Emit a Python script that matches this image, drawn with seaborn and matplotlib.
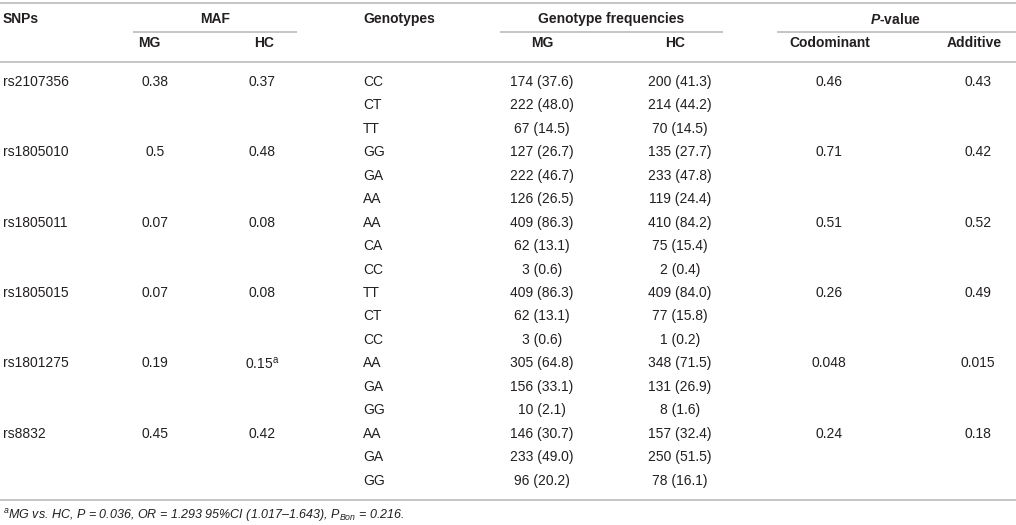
import matplotlib
matplotlib.use("Agg")
import matplotlib.pyplot as plt
import seaborn as sns

# table contents
snps = ["rs2107356", "rs1805010", "rs1805011", "rs1805015", "rs1801275", "rs8832"]
maf_mg = ["0.38", "0.5", "0.07", "0.07", "0.19", "0.45"]
maf_hc = ["0.37", "0.48", "0.08", "0.08", r"0.15$^{\mathrm{a}}$", "0.42"]
genotypes = [["CC", "CT", "TT"], ["GG", "GA", "AA"], ["AA", "CA", "CC"],
             ["TT", "CT", "CC"], ["AA", "GA", "GG"], ["AA", "GA", "GG"]]
mg_counts = [[174, 222, 67], [127, 222, 126], [409, 62, 3],
             [409, 62, 3], [305, 156, 10], [146, 233, 96]]
mg_pct = [[37.6, 48.0, 14.5], [26.7, 46.7, 26.5], [86.3, 13.1, 0.6],
          [86.3, 13.1, 0.6], [64.8, 33.1, 2.1], [30.7, 49.0, 20.2]]
hc_counts = [[200, 214, 70], [135, 233, 119], [410, 75, 2],
             [409, 77, 1], [348, 131, 8], [157, 250, 78]]
hc_pct = [[41.3, 44.2, 14.5], [27.7, 47.8, 24.4], [84.2, 15.4, 0.4],
          [84.0, 15.8, 0.2], [71.5, 26.9, 1.6], [32.4, 51.5, 16.1]]
p_codominant = ["0.46", "0.71", "0.51", "0.26", "0.048", "0.24"]
p_additive = ["0.43", "0.42", "0.52", "0.49", "0.015", "0.18"]
footnote = (r"$^{a}$MG vs. HC, $P$ = 0.036, OR = 1.293 95%CI (1.017–1.643), "
            r"$P_{Bon}$ = 0.216.")

sns.set_theme(style="white")
plt.rcParams["font.family"] = ["Liberation Sans", "DejaVu Sans"]
plt.rcParams["mathtext.fontset"] = "custom"
plt.rcParams["mathtext.rm"] = "Liberation Sans"
plt.rcParams["mathtext.it"] = "Liberation Sans:italic"
plt.rcParams["mathtext.bf"] = "Liberation Sans:bold"
plt.rcParams["mathtext.bfit"] = "Liberation Sans:bold:italic"

W, H = 1016, 525
fig = plt.figure(figsize=(W / 100, H / 100), dpi=100)
ax = fig.add_axes([0, 0, 1, 1])
ax.set_xlim(0, W)
ax.set_ylim(H, 0)
ax.axis("off")

txt = "#231f20"
rule = "#b5b5b5"
fs = 10

# column positions (pixels)
x_snp, x_mafmg, x_mafhc, x_geno = 3, 155, 262, 363
x_fmg, x_fhc, x_cod, x_add = 542, 680, 829, 978

# rules
for y in (3, 62, 500):
    ax.plot([0, W], [y, y], color=rule, lw=1.1, solid_capstyle="butt")
for x0, x1 in ((133, 297), (500, 723), (777, W)):
    ax.plot([x0, x1], [32, 32], color=rule, lw=1.1, solid_capstyle="butt")

# header
hd = dict(fontsize=fs, fontweight="bold", color=txt, va="center")
ax.text(x_snp, 19, "SNPs", ha="left", **hd)
ax.text(215, 19, "MAF", ha="center", **hd)
ax.text(x_geno, 19, "Genotypes", ha="left", **hd)
ax.text(611, 19, "Genotype frequencies", ha="center", **hd)
ax.text(895, 19, r"$\mathbfit{P}$-value", ha="center", **hd)
ax.text(149, 43, "MG", ha="center", **hd)
ax.text(264, 43, "HC", ha="center", **hd)
ax.text(x_fmg, 43, "MG", ha="center", **hd)
ax.text(675, 43, "HC", ha="center", **hd)
ax.text(830, 43, "Codominant", ha="center", **hd)
ax.text(974, 43, "Additive", ha="center", **hd)

# body
bd = dict(fontsize=fs, color=txt, va="center")
y0, dy = 82, 23.45
for i, snp in enumerate(snps):
    ys = y0 + 3 * i * dy
    ax.text(x_snp, ys, snp, ha="left", **bd)
    ax.text(x_mafmg, ys, maf_mg[i], ha="center", **bd)
    ax.text(x_mafhc, ys, maf_hc[i], ha="center", **bd)
    ax.text(x_cod, ys, p_codominant[i], ha="center", **bd)
    ax.text(x_add, ys, p_additive[i], ha="center", **bd)
    for j in range(3):
        y = ys + j * dy
        ax.text(x_geno, y, genotypes[i][j], ha="left", **bd)
        ax.text(x_fmg, y, f"{mg_counts[i][j]} ({mg_pct[i][j]:.1f})", ha="center", **bd)
        ax.text(x_fhc, y, f"{hc_counts[i][j]} ({hc_pct[i][j]:.1f})", ha="center", **bd)

ax.text(x_snp, 515, footnote, ha="left", va="center", fontsize=9,
        style="italic", color=txt)

fig.savefig("out.png", dpi=100)
